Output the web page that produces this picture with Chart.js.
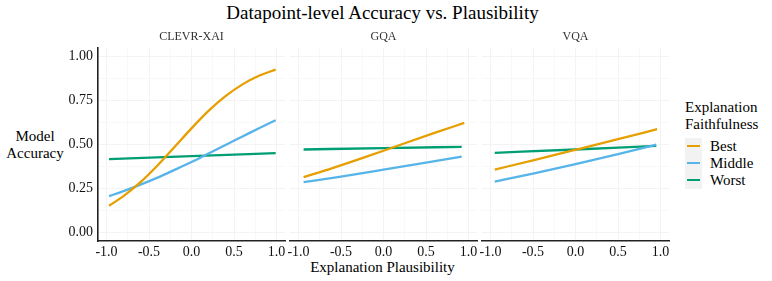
<!DOCTYPE html>
<html><head><meta charset="utf-8">
<script src="https://cdn.jsdelivr.net/npm/chart.js@4.4.0/dist/chart.umd.min.js"></script>
<style>
body{margin:0;width:772px;height:281px;position:relative;background:#fff;overflow:hidden}
canvas{position:absolute;top:0}
.t{position:absolute;white-space:nowrap;color:#000;font-family:'Liberation Serif'}
.key{position:absolute;left:687px;width:13px;height:2.5px}
</style></head><body>
<div class="t" style="left:0;width:765px;top:3px;font-size:19px;line-height:20px;text-align:center">Datapoint-level Accuracy vs. Plausibility</div>
<div class="t" style="left:0;width:765px;top:259px;font-size:15px;line-height:17px;text-align:center">Explanation Plausibility</div>
<div class="t" style="left:0;width:70px;top:127.5px;font-size:15px;line-height:17px;text-align:center">Model<br>Accuracy</div>
<div class="t" style="left:685px;top:98.5px;font-size:15px;line-height:17px">Explanation<br>Faithfulness</div>
<div style="position:absolute;left:685px;top:137.5px;width:17px;height:51px;background:#f2f2f2"></div>
<div class="key" style="top:144.8px;background:#E69F00"></div>
<div class="key" style="top:161.8px;background:#56B4E9"></div>
<div class="key" style="top:178.8px;background:#009E73"></div>
<div class="t" style="left:710px;top:137.5px;font-size:15px;line-height:17px">Best<br>Middle<br>Worst</div>
<canvas id="c0" width="300" height="281" style="left:0px"></canvas>
<canvas id="c1" width="217" height="281" style="left:275px"></canvas>
<canvas id="c2" width="217" height="281" style="left:467px"></canvas>
<script>
const panels = ['CLEVR-XAI', 'GQA', 'VQA'];
const seriesNames = ['Best', 'Middle', 'Worst'];
const seriesColors = ['#E69F00', '#56B4E9', '#009E73'];
const xTicks = [-1, -0.75, -0.5, -0.25, 0, 0.25, 0.5, 0.75, 1];
const yTicks = [0, 0.125, 0.25, 0.375, 0.5, 0.625, 0.75, 0.875, 1];

// CLEVR-XAI
const clevrBestX   = [-0.97, -0.8, -0.6, -0.4, -0.2, 0, 0.2, 0.4, 0.6, 0.8, 0.99];
const clevrBest    = [0.15, 0.205, 0.284, 0.379, 0.484, 0.59, 0.689, 0.773, 0.84, 0.89, 0.924];
const clevrMiddleX = [-0.97, -0.8, -0.6, -0.4, -0.2, 0, 0.2, 0.4, 0.6, 0.8, 0.99];
const clevrMiddle  = [0.205, 0.233, 0.27, 0.31, 0.354, 0.399, 0.447, 0.496, 0.544, 0.592, 0.636];
const clevrWorstX  = [-0.97, 0, 0.99];
const clevrWorst   = [0.415, 0.432, 0.449];
// GQA
const gqaBestX   = [-0.94, -0.6, -0.2, 0.2, 0.6, 0.95];
const gqaBest    = [0.313, 0.364, 0.429, 0.497, 0.564, 0.621];
const gqaMiddleX = [-0.94, -0.5, 0, 0.5, 0.92];
const gqaMiddle  = [0.284, 0.316, 0.355, 0.395, 0.43];
const gqaWorstX  = [-0.94, 0, 0.92];
const gqaWorst   = [0.47, 0.478, 0.485];
// VQA
const vqaBestX   = [-0.95, -0.5, 0, 0.5, 0.96];
const vqaBest    = [0.356, 0.408, 0.468, 0.529, 0.585];
const vqaMiddleX = [-0.95, -0.5, 0, 0.5, 0.95];
const vqaMiddle  = [0.288, 0.333, 0.387, 0.444, 0.497];
const vqaWorstX  = [-0.95, 0, 0.95];
const vqaWorst   = [0.451, 0.47, 0.491];

const panelData = [
  [[clevrBestX, clevrBest], [clevrMiddleX, clevrMiddle], [clevrWorstX, clevrWorst]],
  [[gqaBestX, gqaBest], [gqaMiddleX, gqaMiddle], [gqaWorstX, gqaWorst]],
  [[vqaBestX, vqaBest], [vqaMiddleX, vqaMiddle], [vqaWorstX, vqaWorst]]
];

const FONT = 'Liberation Serif';
Chart.defaults.font.family = FONT;
function isMult(v, s) { return Math.abs(v / s - Math.round(v / s)) < 1e-6; }

panels.forEach((name, i) => {
  const first = i === 0;
  const datasets = panelData[i].map((pair, k) => ({
    label: seriesNames[k],
    data: pair[0].map((x, j) => ({x: x, y: pair[1][j]})),
    borderColor: seriesColors[k],
    borderWidth: 2.3,
    pointRadius: 0,
    fill: false,
    cubicInterpolationMode: 'monotone'
  }));
  new Chart(document.getElementById('c' + i), {
    type: 'line',
    data: {datasets},
    options: {
      responsive: false,
      animation: false,
      devicePixelRatio: 1,
      layout: {padding: {left: first ? 0 : 15, right: 15, top: 30, bottom: 15}},
      plugins: {
        legend: {display: false},
        tooltip: {enabled: false},
        title: {display: true, text: name, color: '#333', fullSize: false,
          font: {family: FONT, size: 12, weight: 'normal'}, padding: {top: 0, bottom: 3}}
      },
      scales: {
        x: {
          type: 'linear', min: -1.1, max: 1.1,
          afterBuildTicks: s => { s.ticks = xTicks.map(v => ({value: v})); },
          afterFit: s => { s.height = 25; s.paddingLeft = 0; s.paddingRight = 0; },
          ticks: {autoSkip: false, maxRotation: 0, padding: 3, color: '#111',
            font: {family: FONT, size: 14},
            callback: v => isMult(v, 0.5) ? v.toFixed(1) : ''},
          grid: {drawTicks: false,
            color: c => (c.tick && isMult(c.tick.value, 0.5)) ? '#f3f3f3' : '#f8f8f8', lineWidth: 1},
          border: {display: true, color: '#222', width: 1.6}
        },
        y: {
          type: 'linear', min: -0.05, max: 1.05,
          afterBuildTicks: s => { s.ticks = yTicks.map(v => ({value: v})); },
          afterFit: s => { s.width = first ? 98 : 0; s.paddingTop = 0; s.paddingBottom = 0; },
          ticks: {display: first, autoSkip: false, padding: 5, color: '#111',
            font: {family: FONT, size: 14},
            callback: v => isMult(v, 0.25) ? v.toFixed(2) : ''},
          grid: {drawTicks: false,
            color: c => (c.tick && isMult(c.tick.value, 0.25)) ? '#f3f3f3' : '#f8f8f8', lineWidth: 1},
          border: {display: first, color: '#222', width: 1.6}
        }
      }
    }
  });
});
</script>
</body></html>
